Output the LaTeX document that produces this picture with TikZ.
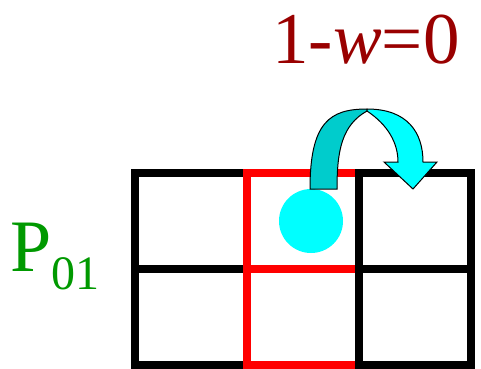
\documentclass[tikz,border=0pt]{standalone}
\usepackage{fontspec}
\setmainfont{Liberation Serif}
\definecolor{gridred}{RGB}{255,0,0}
\definecolor{labelred}{RGB}{153,0,0}
\definecolor{labelgreen}{RGB}{0,153,0}
\definecolor{darkcyan}{RGB}{0,204,204}
\definecolor{lightcyan}{RGB}{0,255,255}
\tikzset{
  gridline/.style={line width=8pt},
  arrowpart/.style={draw=black, line width=1pt, line join=miter}
}
\begin{document}
\begin{tikzpicture}[x=1pt,y=-1pt]
\useasboundingbox (0,0) rectangle (481,368);
% black grid
\draw[gridline,black] (135,173) rectangle (471,365);
\draw[gridline,black] (135,269) -- (471,269);
\draw[gridline,black] (247,173) -- (247,365);
% red column
\draw[gridline,gridred] (247,173) rectangle (359,365);
\draw[gridline,gridred] (247,269) -- (359,269);
% right black edge over red
\draw[gridline,black,line cap=rect] (359,173) -- (359,365);
% ball
\fill[lightcyan] (311,221) circle (32);
% curved arrow: back band
\path[arrowpart,fill=darkcyan] (310,189) .. controls (310,122) and (330,109) .. (367,109)
  -- (367,111) .. controls (342,125) and (337,150) .. (337,189) -- cycle;
% front band with head
\path[arrowpart,fill=lightcyan] (367,109) .. controls (408,109) and (423,133) .. (423,162)
  -- (437,162) -- (413,189) -- (384,162) -- (398,162)
  .. controls (398,143) and (388,125) .. (367,111) -- cycle;
% labels
\node[anchor=base, inner sep=0pt, text=labelred, font=\fontsize{73}{73}\selectfont] (eq) at (366,63) {1\textit{-w}=0};
\node[anchor=base west, inner sep=0pt, text=labelgreen] (p) at (10,271) {\fontsize{74}{74}\selectfont P\raisebox{-18pt}{\fontsize{48}{48}\selectfont 01}};
\end{tikzpicture}
\end{document}
